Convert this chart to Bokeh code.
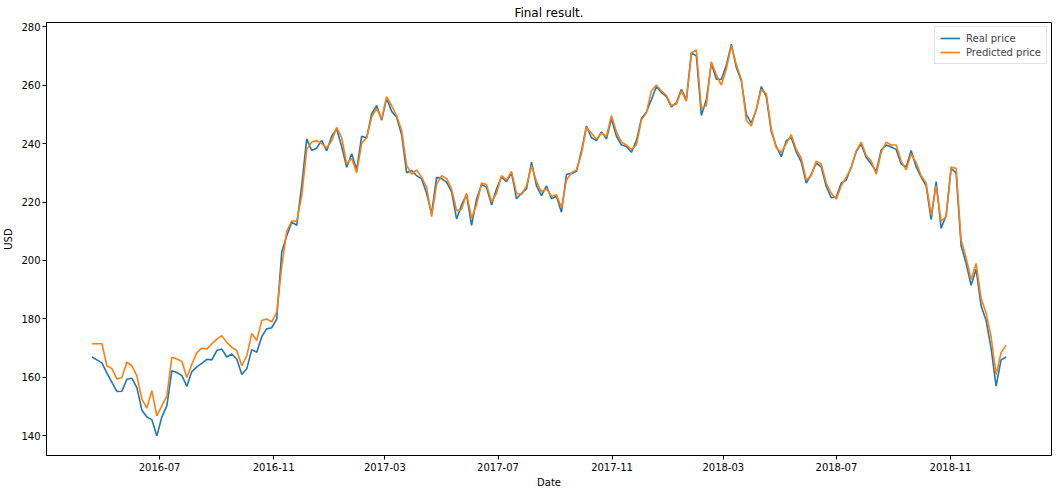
import pandas as pd
from bokeh.plotting import figure
from bokeh.models import Range1d, FixedTicker, DatetimeTickFormatter
from bokeh.embed import file_html
from bokeh.resources import INLINE

start_date = "2016-04-19"
end_date = "2018-12-31"

real_price = [
    167.0, 166.0, 165.0, 161.5, 158.3, 155.2, 155.3, 159.4, 159.7, 156.5, 148.8, 146.5, 145.5, 140.0, 146.5, 150.3, 162.3, 161.7, 160.6,
    157.0, 162.0, 163.6, 164.8, 166.2, 166.0, 169.2, 169.7, 167.0, 168.0, 166.3, 161.0, 163.0, 169.5, 168.6, 174.0, 176.6, 177.0, 180.0,
    203.0, 208.5, 213.1, 212.0, 225.7, 241.6, 237.6, 238.5, 241.1, 237.5, 242.5, 245.0, 239.0, 231.9, 236.5, 231.0,
    242.5, 242.0, 250.2, 253.0, 248.0, 255.5, 251.0, 249.0, 243.0, 230.0, 230.8, 229.0, 227.9, 223.0, 216.0, 228.5, 228.0, 226.8, 223.5, 214.2,
    219.0, 222.5, 212.0, 221.0, 226.0, 225.0, 219.0, 224.5, 228.5, 227.0, 230.0, 221.1, 223.0, 224.5, 233.6, 225.5, 222.2,
    225.5, 221.1, 222.0, 216.5, 229.5, 229.7, 230.5, 237.5, 246.0, 242.0, 241.0, 244.0, 241.5, 248.5, 242.5, 239.5, 239.0, 237.0, 241.0,
    248.5, 250.8, 255.0, 259.5, 257.5, 256.0, 252.5, 254.0, 258.5, 255.0, 271.0, 270.0, 249.6, 255.0, 267.5, 262.0, 262.0, 266.8, 274.0, 266.0,
    261.5, 250.0, 247.0, 251.5, 259.5, 256.0, 244.0, 239.0, 235.5, 241.0, 242.0, 237.1, 233.7, 226.5, 229.5, 233.3,
    232.0, 225.3, 221.5, 221.7, 226.5, 227.5, 232.0, 237.3, 239.8, 235.2, 233.0, 230.5, 237.8, 239.5, 238.8, 238.0, 233.0, 232.0,
    237.6, 232.0, 228.5, 225.5, 214.0, 227.0, 211.0, 215.4, 231.5, 230.0, 205.0, 199.0, 191.5, 197.0, 184.5, 179.5, 170.0, 157.0, 166.0, 167.0,
]

predicted_price = [
    171.5, 171.5, 171.5, 164.0, 163.0, 159.5, 160.0, 165.2, 164.0, 160.5, 152.6, 149.5, 155.5, 146.9, 150.3, 153.7, 166.9, 166.3, 165.5,
    160.0, 164.5, 168.5, 170.0, 169.7, 171.5, 173.1, 174.3, 172.0, 170.3, 169.2, 164.0, 167.4, 175.0, 172.6, 179.5, 180.0, 179.0, 182.3,
    198.0, 210.0, 213.5, 213.5, 222.0, 238.0, 240.5, 241.0, 240.0, 238.5, 241.0, 245.5, 242.0, 233.0, 235.0, 230.0,
    240.0, 242.0, 249.0, 252.0, 248.5, 256.0, 253.0, 249.5, 244.5, 232.5, 229.5, 231.0, 228.5, 225.0, 215.0, 226.0, 229.0, 228.0, 224.5, 217.0,
    217.5, 223.0, 214.5, 219.0, 226.5, 226.0, 220.0, 223.0, 229.0, 227.5, 230.5, 223.0, 222.5, 225.5, 232.5, 227.0, 223.5,
    224.5, 222.0, 222.5, 218.0, 227.5, 230.0, 231.0, 236.5, 245.5, 243.5, 241.5, 243.5, 242.5, 249.5, 244.0, 240.5, 239.5, 238.0, 239.5,
    248.0, 250.5, 258.0, 260.0, 258.0, 256.5, 253.0, 253.5, 258.0, 254.5, 271.0, 272.0, 252.0, 253.0, 268.0, 263.5, 260.0, 265.5, 273.5, 267.0,
    262.0, 248.0, 246.0, 252.0, 258.5, 257.0, 245.0, 238.5, 237.0, 240.0, 243.0, 238.0, 235.0, 227.5, 229.0, 234.0,
    233.0, 226.5, 223.0, 221.0, 225.5, 228.5, 231.5, 237.5, 240.5, 236.0, 234.0, 229.5, 237.0, 240.5, 239.5, 239.5, 234.0, 231.0,
    236.5, 233.5, 229.0, 226.5, 215.5, 225.5, 213.5, 215.0, 232.0, 231.5, 207.0, 201.0, 193.5, 199.0, 187.0, 182.0, 174.0, 161.0, 168.5, 171.0,
]

x_tick_labels = ["2016-07", "2016-11", "2017-03", "2017-07", "2017-11", "2018-03", "2018-07", "2018-11"]
y_ticks = [140, 160, 180, 200, 220, 240, 260, 280]

dates = pd.date_range(start_date, end_date, periods=len(real_price))

FONT = "DejaVu Sans"

p = figure(
    frame_width=1005, frame_height=433,
    x_axis_type="datetime",
    x_range=Range1d(pd.Timestamp("2016-03-01"), pd.Timestamp("2019-02-18")),
    y_range=Range1d(133.3, 281.4),
    output_backend="svg", toolbar_location=None,
    title="Final result.",
    min_border_left=0, min_border_right=2, min_border_top=22, min_border_bottom=0,
)

p.line(dates, real_price, line_color="#1f77b4", line_width=1.6, legend_label="Real price")
p.line(dates, predicted_price, line_color="#ff7f0e", line_width=1.6, legend_label="Predicted price")

# title
p.title.align = "center"
p.title.text_font = FONT
p.title.text_font_size = "12px"
p.title.text_font_style = "normal"
p.title.text_color = "black"
p.title.standoff = 5

# grids off, frame box
p.xgrid.visible = False
p.ygrid.visible = False
p.outline_line_color = "black"
p.outline_line_width = 1
p.outline_line_alpha = 1.0

tick_ms = [pd.Timestamp(s + "-01").value // 10**6 for s in x_tick_labels]
p.xaxis.ticker = FixedTicker(ticks=tick_ms)
fmt = "%Y-%m"
p.xaxis.formatter = DatetimeTickFormatter(
    microseconds=fmt, milliseconds=fmt, seconds=fmt, minsec=fmt, minutes=fmt,
    hourmin=fmt, hours=fmt, days=fmt, months=fmt, years=fmt,
)
p.yaxis.ticker = FixedTicker(ticks=y_ticks)

p.xaxis.axis_label = "Date"
p.yaxis.axis_label = "USD"

for ax in (p.xaxis, p.yaxis):
    ax.axis_line_color = "black"
    ax.major_tick_line_color = "black"
    ax.major_tick_out = 4
    ax.major_tick_in = 0
    ax.minor_tick_line_color = None
    ax.major_label_text_font = FONT
    ax.major_label_text_font_size = "10px"
    ax.major_label_text_color = "black"
    ax.axis_label_text_font = FONT
    ax.axis_label_text_font_size = "10px"
    ax.axis_label_text_font_style = "normal"
    ax.axis_label_text_color = "black"

p.xaxis.major_label_standoff = 3
p.xaxis.axis_label_standoff = 3
p.yaxis.major_label_standoff = 2
p.yaxis.axis_label_standoff = 4

# legend
lg = p.legend[0]
lg.location = "top_right"
lg.label_text_font = FONT
lg.label_text_font_size = "10px"
lg.glyph_width = 20
lg.glyph_height = 12
lg.label_height = 12
lg.label_standoff = 6
lg.spacing = 2
lg.padding = 5
lg.margin = 4
lg.border_line_color = "#cccccc"
lg.background_fill_alpha = 0.8

open("out.html", "w").write(file_html(p, INLINE))
